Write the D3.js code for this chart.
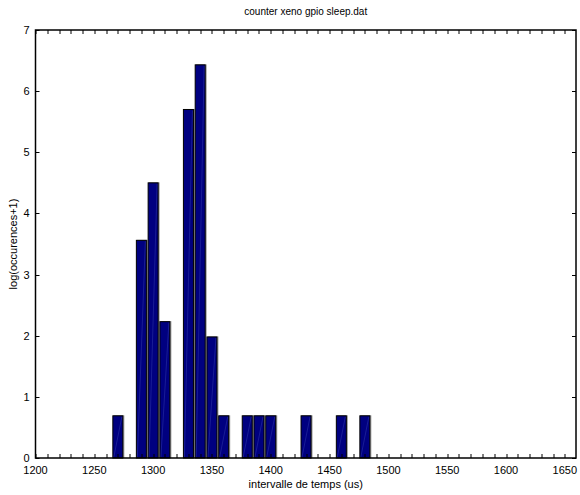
<!DOCTYPE html>
<html>
<head>
<meta charset="utf-8">
<script src="https://cdn.jsdelivr.net/npm/d3@7"></script>
<style>
  body { margin: 0; background: #fff; }
  text { font-family: "Liberation Sans", Arial, sans-serif; fill: #000; }
</style>
</head>
<body>
<div id="chart"></div>
<script>
// data: bin centre (us) and log(occurences+1)
const bins   = [1270, 1290, 1300, 1310, 1330, 1340, 1350, 1360, 1380, 1390, 1400, 1430, 1460, 1480]
const values = [0.69, 3.56, 4.50, 2.23, 5.70, 6.43, 1.98, 0.69, 0.69, 0.69, 0.69, 0.69, 0.69, 0.69]
const xTicks = [1200, 1250, 1300, 1350, 1400, 1450, 1500, 1550, 1600, 1650]
const yTicks = [0, 1, 2, 3, 4, 5, 6, 7]

const W = 580, H = 495
const margin = {top: 30, right: 4, bottom: 37, left: 35.5}
const width = W - margin.left - margin.right
const height = H - margin.top - margin.bottom

const barW = 8.5

var x = d3.scaleLinear().domain([1200, 1659.5]).range([0, width])
var y = d3.scaleLinear().domain([0, 7]).range([height, 0])

var svg = d3.select('#chart').append('svg')
    .attr('width', W)
    .attr('height', H)

var g = svg.append('g')
    .attr('transform', `translate(${margin.left},${margin.top})`)

// bars
var bars = g.append('g')
bins.forEach(function(b, i) {
  let x0 = x(b - barW / 2), x1 = x(b + barW / 2)
  let y0 = y(values[i]), y1 = y(0)
  // soft grey edge
  bars.append('rect')
      .attr('x', x0 + 0.5).attr('y', y0 - 0.5)
      .attr('width', x1 - x0 + 1).attr('height', y1 - y0 + 0.5)
      .attr('fill', '#9a9a9a')
  bars.append('rect')
      .attr('x', x0).attr('y', y0)
      .attr('width', x1 - x0).attr('height', y1 - y0)
      .attr('fill', '#000080')
      .attr('stroke', '#000')
      .attr('stroke-width', 1)
  bars.append('line')
      .attr('x1', x0 + 1).attr('y1', y1 - 1)
      .attr('x2', x1 - 1).attr('y2', y0 + 1)
      .attr('stroke', '#6f7fe0')
      .attr('stroke-width', 0.5)
      .attr('opacity', 0.45)
})

// ticks (inward, mirrored)
var minor = d3.range(1200, 1660, 10)
var tk = g.append('g').attr('stroke', '#000').attr('stroke-width', 1)
minor.forEach(function(v) {
  let px = Math.round(x(v)) + 0.5
  tk.append('line').attr('x1', px).attr('x2', px).attr('y1', height).attr('y2', height - 4)
  tk.append('line').attr('x1', px).attr('x2', px).attr('y1', 0).attr('y2', 4)
})
yTicks.forEach(function(v) {
  let py = Math.round(y(v)) + 0.5
  tk.append('line').attr('x1', 0).attr('x2', 4).attr('y1', py).attr('y2', py)
  tk.append('line').attr('x1', width).attr('x2', width - 4).attr('y1', py).attr('y2', py)
})

// box
g.append('rect')
    .attr('x', 0).attr('y', 0)
    .attr('width', width).attr('height', height)
    .attr('fill', 'none')
    .attr('stroke', '#000')
    .attr('stroke-width', 1.5)

// tick labels
g.append('g').selectAll('text')
  .data(xTicks)
  .enter().append('text')
    .attr('x', d => x(d))
    .attr('y', height + 16)
    .attr('text-anchor', 'middle')
    .attr('font-size', 11)
    .text(d => d)

g.append('g').selectAll('text')
  .data(yTicks)
  .enter().append('text')
    .attr('x', -6)
    .attr('y', d => y(d) + 4)
    .attr('text-anchor', 'end')
    .attr('font-size', 11)
    .text(d => d)

// titles
svg.append('text')
    .attr('x', margin.left + width / 2)
    .attr('y', 15)
    .attr('text-anchor', 'middle')
    .attr('font-size', 10)
    .text('counter xeno gpio sleep.dat')

svg.append('text')
    .attr('x', margin.left + width / 2)
    .attr('y', 488)
    .attr('text-anchor', 'middle')
    .attr('font-size', 11)
    .text('intervalle de temps (us)')

svg.append('text')
    .attr('transform', `translate(17,${margin.top + height / 2}) rotate(-90)`)
    .attr('text-anchor', 'middle')
    .attr('font-size', 11)
    .text('log(occurences+1)')
</script>
</body>
</html>
